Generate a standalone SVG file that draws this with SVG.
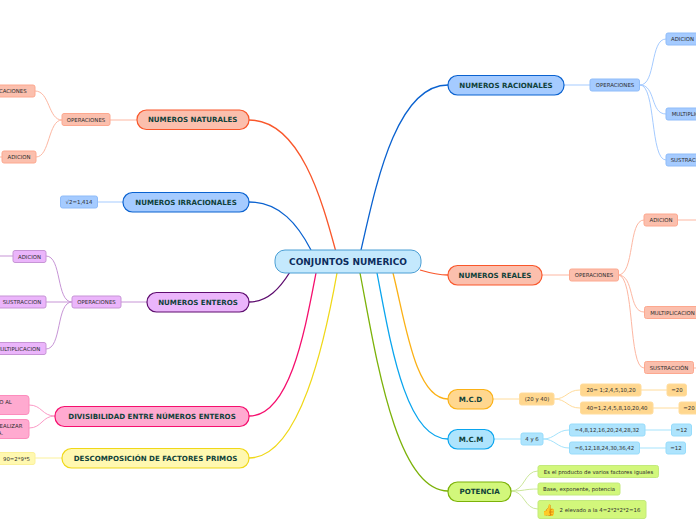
<svg xmlns="http://www.w3.org/2000/svg" width="696" height="520" viewBox="0 0 696 520">
<style>
text{font-family:"DejaVu Sans",Verdana,sans-serif;text-anchor:middle}
.m text{font-size:7.1px;font-weight:700;fill:#0f4139}
.l text{font-size:5.4px;fill:#2e2e2e}
.m rect{stroke-width:1.2}
.l rect{stroke-width:1}
.c path{fill:none}
.orange rect{fill:#fbbfad}.orange.m rect{stroke:#f9572b}.orange.l rect{stroke:#fda88f}
.blue rect{fill:#a5cbff}.blue.m rect{stroke:#0a62d0}.blue.l rect{stroke:#8fbcf9}
.purple rect{fill:#ebb5fb}.purple.m rect{stroke:#5e0d6f}.purple.l rect{stroke:#c795d6}
.pink rect{fill:#ffaad0}.pink.m rect{stroke:#f50f6e}.pink.l rect{stroke:#fc8dbd}
.yellow rect{fill:#fff8b0}.yellow.m rect{stroke:#f0d818}.yellow.l rect{stroke:#fbf19a}
.amber rect{fill:#ffd78f}.amber.m rect{stroke:#fbb116}.amber.l rect{stroke:#ffdc9c}
.sky rect{fill:#aee4fd}.sky.m rect{stroke:#0aa5ee}.sky.l rect{stroke:#97dcfb}
.green rect{fill:#d2f77b}.green.m rect{stroke:#7cb209}.green.l rect{stroke:#c3ea7c}
</style>
<g id="connectors" class="c">
<g stroke-width="1.3">
<path d="M336 252C322 200 300 120 249 120" stroke="#f9572b"/>
<path d="M311 250C298 225 280 202 249 202" stroke="#0a62d0"/>
<path d="M290 272C280 288 268 302 249 302" stroke="#5e0d6f"/>
<path d="M316 273C305 330 290 416 249 416" stroke="#f50f6e"/>
<path d="M337 273C325 340 300 458 249 458" stroke="#f0d818"/>
<path d="M361 250C375 190 395 85 448 85" stroke="#0a62d0"/>
<path d="M420 270C430 273 438 275 448 275" stroke="#f9572b"/>
<path d="M393 273C405 320 415 399 448 399" stroke="#fbb116"/>
<path d="M377 273C390 340 405 439 448 439" stroke="#0aa5ee"/>
<path d="M360 273C375 350 395 491 448 491" stroke="#7cb209"/>
</g>
<g stroke="#fdb7a2" stroke-width="1">
<path d="M137 120H110"/><path d="M62 120C48 120 50 91 35 91"/><path d="M62 120C48 120 50 157 36 157"/><path d="M2 157H0"/>
<path d="M542 275H570"/><path d="M618 275C635 275 628 220 644 220"/><path d="M618 275C635 275 628 312 644 312"/><path d="M618 275C635 275 628 368 644 368"/><path d="M678 220H696"/><path d="M694 368H696"/>
</g>
<path d="M123 202H98" stroke="#a5cbff" stroke-width="1"/>
<g stroke="#a5cbff" stroke-width="1">
<path d="M564 85H590"/><path d="M640 85C656 85 650 39 666 39"/><path d="M640 85C656 85 650 114 666 114"/><path d="M640 85C656 85 650 160 666 160"/>
</g>
<g stroke="#c795d6" stroke-width="1">
<path d="M147 302H121"/><path d="M72 302C56 302 62 256 46 256"/><path d="M72 302H46"/><path d="M72 302C56 302 62 349 46 349"/><path d="M13 256H0"/>
</g>
<g stroke="#fc9ac6" stroke-width="1"><path d="M55 416C42 416 42 405 29 405"/><path d="M55 416C42 416 42 428 29 428"/></g>
<path d="M62 458H35" stroke="#fbf19a" stroke-width="1"/>
<g stroke="#ffdc9c" stroke-width="1">
<path d="M493 399H520"/><path d="M554 399C567 399 567 390 580 390"/><path d="M554 399C567 399 567 408 580 408"/><path d="M641 390H667"/><path d="M653 408H679"/>
</g>
<g stroke="#a5e3fc" stroke-width="1">
<path d="M494 439H521"/><path d="M543 439C555 439 557 430 569 430"/><path d="M543 439C555 439 557 448 569 448"/><path d="M645 430H671"/><path d="M640 448H666"/>
</g>
<g stroke="#cbe79a" stroke-width="1">
<path d="M511 491C525 491 524 471 538 471"/><path d="M511 491C525 491 524 489 538 489"/><path d="M511 491C525 491 524 509 538 509"/>
</g>
</g>

<g id="center"><rect x="275" y="250" width="146" height="23" rx="10" fill="#c4e9fd" stroke="#4a9ed4" stroke-width="1"/><text x="348" y="265" font-size="9" font-weight="700" fill="#0c2c5c">CONJUNTOS NUMERICO</text></g>

<g id="naturales" class="m orange"><rect x="137" y="110" width="112" height="19.5" rx="9.5"/><text x="192.700" y="122.300">NUMEROS NATURALES</text></g>
<g id="irracionales" class="m blue"><rect x="123" y="192.500" width="126" height="19.5" rx="9.5"/><text x="186" y="204.800">NUMEROS IRRACIONALES</text></g>
<g id="enteros" class="m purple"><rect x="147" y="292.500" width="102" height="19.5" rx="9.5"/><text x="198" y="304.800">NUMEROS ENTEROS</text></g>
<g id="divisibilidad" class="m pink"><rect x="55" y="406.500" width="194" height="20" rx="9.5"/><text x="152" y="419">DIVISIBILIDAD ENTRE NÚMEROS ENTEROS</text></g>
<g id="descomposicion" class="m yellow"><rect x="62" y="448.500" width="187" height="19.5" rx="9.5"/><text x="155.500" y="461">DESCOMPOSICIÓN DE FACTORES PRIMOS</text></g>
<g id="racionales" class="m blue"><rect x="448" y="75.500" width="116" height="19.5" rx="9.5"/><text x="506" y="87.800">NUMEROS RACIONALES</text></g>
<g id="reales" class="m orange"><rect x="448" y="265.500" width="94" height="19.5" rx="9.5"/><text x="495" y="277.800">NUMEROS REALES</text></g>
<g id="mcd" class="m amber"><rect x="448" y="389.500" width="45" height="19.5" rx="9.5"/><text x="470.500" y="401.800">M.C.D</text></g>
<g id="mcm" class="m sky"><rect x="448" y="429.500" width="46" height="19.5" rx="9.5"/><text x="471" y="441.800">M.C.M</text></g>
<g id="potencia" class="m green"><rect x="448" y="482" width="63" height="19.5" rx="9.5"/><text x="479.600" y="494.300">POTENCIA</text></g>

<g id="nat-op" class="l orange"><rect x="62" y="113.500" width="48" height="12" rx="2"/><text x="86" y="121.500">OPERACIONES</text></g>
<g id="nat-mult" class="l orange"><rect x="-20" y="85" width="55" height="12" rx="2"/><text x="1" y="93">MULTIPLICACIONES</text></g>
<g id="nat-ad" class="l orange"><rect x="2" y="151" width="34" height="12" rx="2"/><text x="19" y="159">ADICION</text></g>
<g id="irr-val" class="l blue"><rect x="60.500" y="196" width="37" height="12" rx="2"/><text x="79" y="204">√2=1,414</text></g>
<g id="ent-op" class="l purple"><rect x="72" y="296" width="49" height="12" rx="2"/><text x="96.500" y="304">OPERACIONES</text></g>
<g id="ent-ad" class="l purple"><rect x="13" y="250.500" width="33" height="12" rx="2"/><text x="29.500" y="258.500">ADICION</text></g>
<g id="ent-sus" class="l purple"><rect x="-10" y="296" width="56" height="12" rx="2"/><text x="22" y="304">SUSTRACCION</text></g>
<g id="ent-mul" class="l purple"><rect x="-20" y="342.500" width="66" height="12" rx="2"/><text x="18" y="350.500">MULTIPLICACION</text></g>
<g id="div-1" class="l pink"><rect x="-30" y="395.500" width="59" height="19" rx="3"/><text x="5.500" y="404">O AL</text></g>
<g id="div-2" class="l pink"><rect x="-30" y="419.500" width="59" height="19" rx="3"/><text x="11" y="428">EALIZAR</text><text x="0.500" y="434.500">A.</text></g>
<g id="des-1" class="l yellow"><rect x="-10" y="452.500" width="45" height="12" rx="2"/><text x="16.500" y="460.700">90=2*9*5</text></g>
<g id="rac-op" class="l blue"><rect x="590" y="79" width="49.500" height="12" rx="2"/><text x="615" y="87">OPERACIONES</text></g>
<g id="rac-ad" class="l blue"><rect x="666" y="33" width="40" height="12" rx="2"/><text x="682.500" y="41">ADICION</text></g>
<g id="rac-mul" class="l blue"><rect x="666" y="108" width="60" height="12" rx="2"/><text x="694" y="116">MULTIPLICACION</text></g>
<g id="rac-sus" class="l blue"><rect x="666" y="154" width="60" height="12" rx="2"/><text x="690" y="162">SUSTRACCIÓN</text></g>
<g id="rea-op" class="l orange"><rect x="569.500" y="269" width="49" height="12" rx="2"/><text x="594" y="277">OPERACIONES</text></g>
<g id="rea-ad" class="l orange"><rect x="644" y="214" width="33.500" height="12" rx="2"/><text x="661" y="222">ADICION</text></g>
<g id="rea-mul" class="l orange"><rect x="644.500" y="306.500" width="66" height="12" rx="2"/><text x="672.500" y="314.500">MULTIPLICACION</text></g>
<g id="rea-sus" class="l orange"><rect x="644.500" y="361.500" width="49" height="12" rx="2"/><text x="669" y="369.500">SUSTRACCIÓN</text></g>
<g id="mcd-v" class="l amber"><rect x="519.500" y="393" width="34.500" height="12" rx="2"/><text x="537" y="401">(20 y 40)</text></g>
<g id="mcd-a" class="l amber"><rect x="580.500" y="384" width="60.500" height="12" rx="2"/><text x="611" y="392">20= 1;2,4,5,10,20</text></g>
<g id="mcd-b" class="l amber"><rect x="580.500" y="402" width="72.500" height="12" rx="2"/><text x="617" y="410">40=1,2,4,5,8,10,20,40</text></g>
<g id="mcd-c" class="l amber"><rect x="667" y="384" width="19.500" height="12" rx="2"/><text x="677" y="392">=20</text></g>
<g id="mcd-d" class="l amber"><rect x="679" y="402" width="25" height="12" rx="2"/><text x="689" y="410">=20</text></g>
<g id="mcm-v" class="l sky"><rect x="521" y="433" width="22" height="12" rx="2"/><text x="532" y="441">4 y 6</text></g>
<g id="mcm-a" class="l sky"><rect x="569.500" y="424" width="75.500" height="12" rx="2"/><text x="607" y="432">=4,8,12,16,20,24,28,32</text></g>
<g id="mcm-b" class="l sky"><rect x="569.500" y="442" width="70" height="12" rx="2"/><text x="604.500" y="450">=6,12,18,24,30,36,42</text></g>
<g id="mcm-c" class="l sky"><rect x="671.500" y="424" width="20" height="12" rx="2"/><text x="681.500" y="432">=12</text></g>
<g id="mcm-d" class="l sky"><rect x="666" y="442" width="19.500" height="12" rx="2"/><text x="676" y="450">=12</text></g>
<g id="pot-a" class="l green"><rect x="538" y="465.500" width="120.500" height="12" rx="2"/><text x="598.500" y="473.500">Es el producto de varios factores iguales</text></g>
<g id="pot-b" class="l green"><rect x="538" y="483" width="82" height="12" rx="2"/><text x="579" y="491">Base, exponente, potencia</text></g>
<g id="pot-c" class="l green"><rect x="538" y="500.500" width="108" height="18" rx="2"/><text x="600" y="511.500">2 elevado a la 4=2*2*2*2=16</text><text x="549" y="513.500" style="font-size:11px;fill:#f0b060">👍</text></g>
</svg>
